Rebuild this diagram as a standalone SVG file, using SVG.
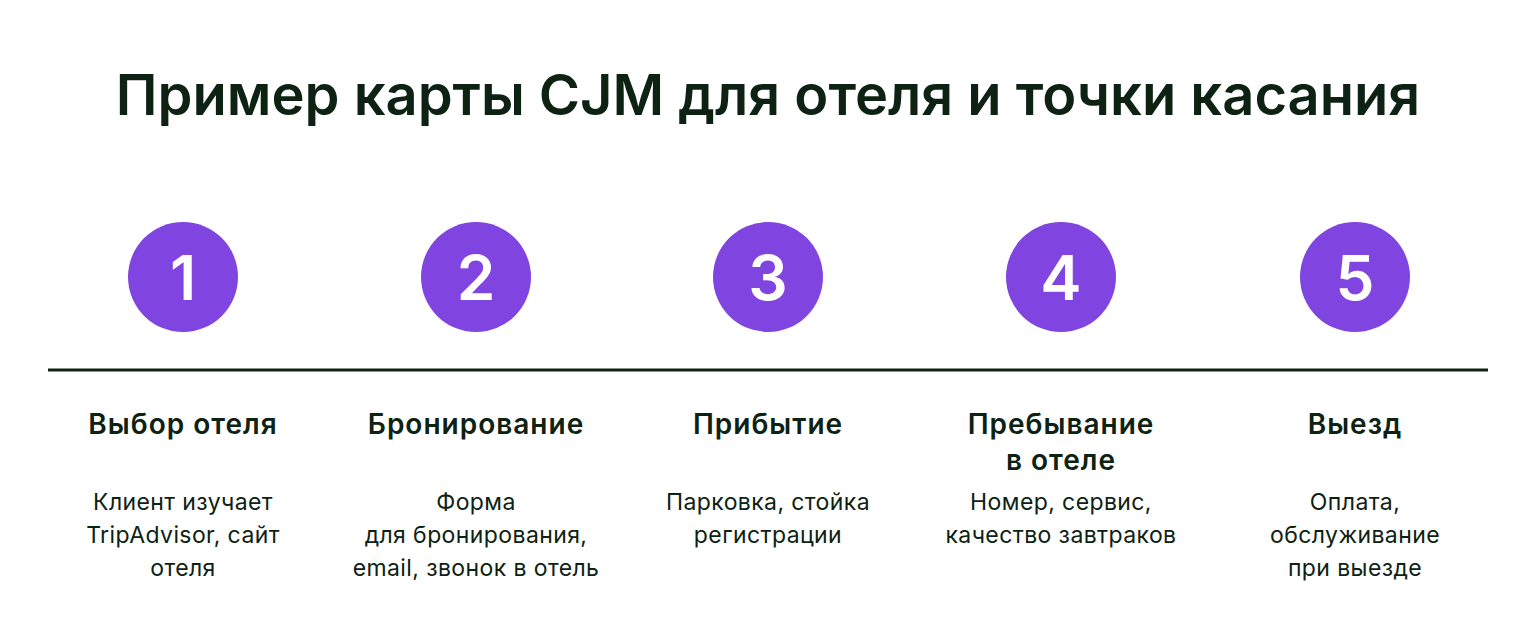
<svg xmlns="http://www.w3.org/2000/svg" width="1536" height="622" viewBox="0 0 1536 622">
<style>
.title{font-family:Inter,"Noto Sans",sans-serif;font-weight:600;font-size:56px;fill:#0d2212;text-anchor:middle}
.num{font-family:Inter,"Noto Sans",sans-serif;font-weight:600;font-size:62px;fill:#ffffff;text-anchor:middle}
.head{font-family:Inter,"Noto Sans",sans-serif;font-weight:600;font-size:28px;letter-spacing:1px;fill:#0d2212;text-anchor:middle}
.desc{font-family:Inter,"Noto Sans",sans-serif;font-weight:400;font-size:23px;letter-spacing:0.4px;fill:#0d2212;text-anchor:middle}
.dot{fill:#8045E0}
</style>
<rect width="1536" height="622" fill="#ffffff"/>
<text class="title" x="768" y="115">Пример карты CJM для отеля и точки касания</text>
<g id="connectors">
<line x1="48" y1="370" x2="1488" y2="370" stroke="#0d2212" stroke-width="3"/>
</g>
<g id="step1">
<circle class="dot" cx="183" cy="277" r="55"/>
<text class="num" x="183" y="300">1</text>
<text class="head" x="183" y="434">Выбор отеля</text>
<text class="desc" x="183" y="510">Клиент изучает</text>
<text class="desc" x="183" y="543">TripAdvisor, сайт</text>
<text class="desc" x="183" y="576">отеля</text>
</g>
<g id="step2">
<circle class="dot" cx="476" cy="277" r="55"/>
<text class="num" x="476" y="300">2</text>
<text class="head" x="476" y="434">Бронирование</text>
<text class="desc" x="476" y="510">Форма</text>
<text class="desc" x="476" y="543">для бронирования,</text>
<text class="desc" x="476" y="576">email, звонок в отель</text>
</g>
<g id="step3">
<circle class="dot" cx="768" cy="277" r="55"/>
<text class="num" x="768" y="300">3</text>
<text class="head" x="768" y="434">Прибытие</text>
<text class="desc" x="768" y="510">Парковка, стойка</text>
<text class="desc" x="768" y="543">регистрации</text>
</g>
<g id="step4">
<circle class="dot" cx="1061" cy="277" r="55"/>
<text class="num" x="1061" y="300">4</text>
<text class="head" x="1061" y="434">Пребывание</text>
<text class="head" x="1061" y="470">в отеле</text>
<text class="desc" x="1061" y="510">Номер, сервис,</text>
<text class="desc" x="1061" y="543">качество завтраков</text>
</g>
<g id="step5">
<circle class="dot" cx="1355" cy="277" r="55"/>
<text class="num" x="1355" y="300">5</text>
<text class="head" x="1355" y="434">Выезд</text>
<text class="desc" x="1355" y="510">Оплата,</text>
<text class="desc" x="1355" y="543">обслуживание</text>
<text class="desc" x="1355" y="576">при выезде</text>
</g>
</svg>
